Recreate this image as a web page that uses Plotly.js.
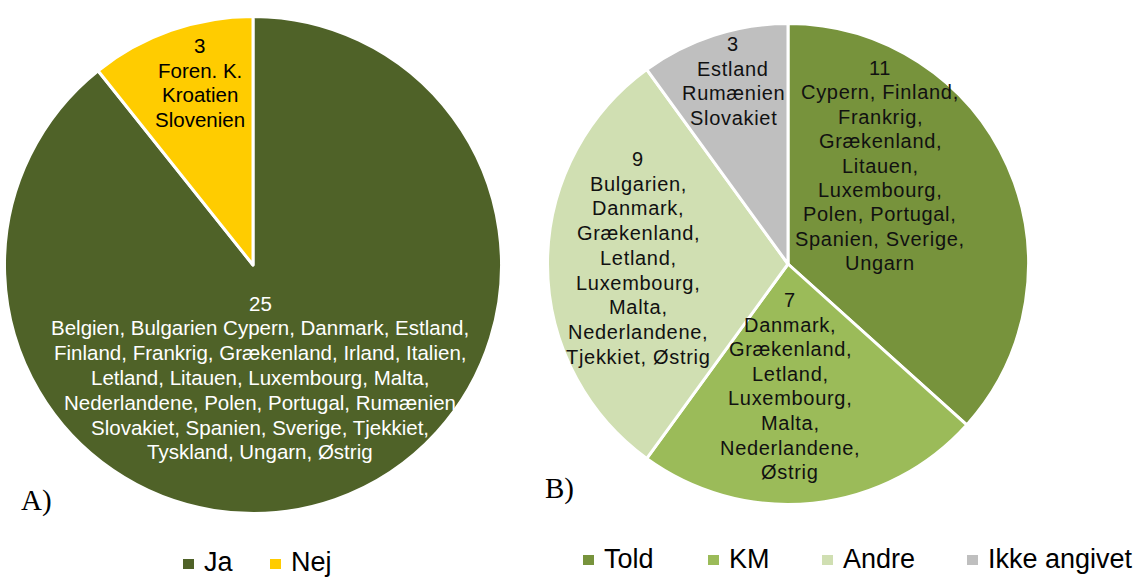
<!DOCTYPE html>
<html>
<head>
<meta charset="utf-8">
<script src="https://cdn.plot.ly/plotly-3.0.1.min.js"></script>
<style>html,body{margin:0;padding:0;background:#fff;}#chart{width:1146px;height:577px;}</style>
</head>
<body>
<div id="chart"></div>
<script>
// ---------- DATA ----------
const leftLabels = ['Ja', 'Nej'];
const leftValues = [25, 3];
const leftCountries = [
  ['Belgien, Bulgarien Cypern, Danmark, Estland,',
   'Finland, Frankrig, Grækenland, Irland, Italien,',
   'Letland, Litauen, Luxembourg, Malta,',
   'Nederlandene, Polen, Portugal, Rumænien',
   'Slovakiet, Spanien, Sverige, Tjekkiet,',
   'Tyskland, Ungarn, Østrig'],
  ['Foren. K.', 'Kroatien', 'Slovenien']
];

const rightLabels = ['Told', 'KM', 'Andre', 'Ikke angivet'];
const rightValues = [11, 7, 9, 3];
const rightCountries = [
  ['Cypern, Finland,', 'Frankrig,', 'Grækenland,', 'Litauen,', 'Luxembourg,', 'Polen, Portugal,', 'Spanien, Sverige,', 'Ungarn'],
  ['Danmark,', 'Grækenland,', 'Letland,', 'Luxembourg,', 'Malta,', 'Nederlandene,', 'Østrig'],
  ['Bulgarien,', 'Danmark,', 'Grækenland,', 'Letland,', 'Luxembourg,', 'Malta,', 'Nederlandene,', 'Tjekkiet, Østrig'],
  ['Estland', 'Rumænien', 'Slovakiet']
];
const panelTags = ['A)', 'B)'];

// ---------- STYLE / LAYOUT ----------
const W = 1146, H = 577;
const leftColors = ['#4F6228', '#FFCC00'];
const rightColors = ['#77933C', '#9BBB59', '#D0DFB2', '#BFBFBF'];
const SANS = 'Liberation Sans, Arial, sans-serif';
const SERIF = 'Liberation Serif, Times New Roman, serif';
const px = x => x / W;
const py = y => 1 - y / H;

const leftPie = {cx: 253, cy: 265, r: 248.5};
const rightPie = {cx: 788, cy: 264, r: 240.5};
function domainOf(p) {
  return {x: [px(p.cx - p.r), px(p.cx + p.r)], y: [py(p.cy + p.r), py(p.cy - p.r)]};
}

const leftLabelPos = [
  {x: 260, y: 303, dy: 24.8, color: '#FFFFFF', size: 20.5, ls: 0},
  {x: 199.5, y: 46, dy: 24.5, color: '#000000', size: 20.5, ls: 0}
];
const rightLabelPos = [
  {x: 880, y: 68, dy: 24.4, color: '#111111', size: 20, ls: 0.7},
  {x: 790, y: 300, dy: 24.6, color: '#111111', size: 20, ls: 0.7},
  {x: 638, y: 159, dy: 24.7, color: '#111111', size: 20, ls: 0.7},
  {x: 733, y: 44, dy: 24.7, color: '#111111', size: 20, ls: 0.7}
];
const leftLegendPos = {xs: [183, 270], sqTop: 559, textY: 562};
const rightLegendPos = {xs: [583, 708, 822, 967], sqTop: 555, textY: 559};
const tagPos = [{x: 19, y: 500}, {x: 543, y: 488}];

const traces = [
  {
    type: 'pie', labels: leftLabels, values: leftValues, sort: false,
    direction: 'clockwise', rotation: 0, textinfo: 'none', hoverinfo: 'none',
    marker: {colors: leftColors, line: {color: '#FFFFFF', width: 3}},
    domain: domainOf(leftPie), showlegend: false
  },
  {
    type: 'pie', labels: rightLabels, values: rightValues, sort: false,
    direction: 'clockwise', rotation: 0, textinfo: 'none', hoverinfo: 'none',
    marker: {colors: rightColors, line: {color: '#FFFFFF', width: 3}},
    domain: domainOf(rightPie), showlegend: false
  }
];

const annotations = [];
const shapes = [];

function addSliceLabels(values, countries, pos) {
  values.forEach((v, i) => {
    const lines = [String(v)].concat(countries[i]);
    const p = pos[i];
    lines.forEach((t, k) => {
      const txt = p.ls ? '<span style="letter-spacing:' + p.ls + 'px">' + t + '</span>' : t;
      annotations.push({
        xref: 'paper', yref: 'paper', x: px(p.x), y: py(p.y + k * p.dy),
        xanchor: 'center', yanchor: 'middle', showarrow: false, text: txt,
        font: {family: SANS, size: p.size, color: p.color}
      });
    });
  });
}
addSliceLabels(leftValues, leftCountries, leftLabelPos);
addSliceLabels(rightValues, rightCountries, rightLabelPos);

function addLegend(labels, colors, pos) {
  labels.forEach((lab, i) => {
    const x = pos.xs[i];
    shapes.push({
      type: 'rect', xref: 'paper', yref: 'paper',
      x0: px(x), x1: px(x + 11), y0: py(pos.sqTop + 10), y1: py(pos.sqTop),
      fillcolor: colors[i], line: {width: 0}
    });
    annotations.push({
      xref: 'paper', yref: 'paper', x: px(x + 19), y: py(pos.textY),
      xanchor: 'left', yanchor: 'middle', showarrow: false, text: lab,
      font: {family: SANS, size: 27, color: '#000000'}
    });
  });
}
addLegend(leftLabels, leftColors, leftLegendPos);
addLegend(rightLabels, rightColors, rightLegendPos);

panelTags.forEach((t, i) => {
  annotations.push({
    xref: 'paper', yref: 'paper', x: px(tagPos[i].x), y: py(tagPos[i].y),
    xanchor: 'left', yanchor: 'middle', showarrow: false, text: t,
    font: {family: SERIF, size: 29, color: '#000000'}
  });
});

const layout = {
  width: W, height: H,
  margin: {l: 0, r: 0, t: 0, b: 0, pad: 0},
  paper_bgcolor: '#FFFFFF', plot_bgcolor: '#FFFFFF',
  showlegend: false,
  annotations: annotations,
  shapes: shapes
};

Plotly.newPlot('chart', traces, layout, {displayModeBar: false, staticPlot: true});
</script>
</body>
</html>
